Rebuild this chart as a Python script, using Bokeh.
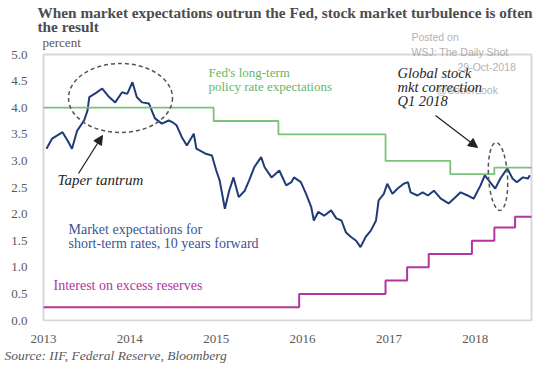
from bokeh.plotting import figure
from bokeh.models import (Range1d, Label, Arrow, NormalHead, FixedTicker, BoxAnnotation, Title)
from bokeh.embed import file_html
from bokeh.resources import INLINE

# ---- data ----
mkt_years = [2013.035, 2013.10, 2013.16, 2013.22, 2013.28, 2013.33, 2013.39, 2013.47, 2013.51, 2013.53,
             2013.60, 2013.68, 2013.76, 2013.83, 2013.91, 2013.97, 2014.03, 2014.08, 2014.14, 2014.22,
             2014.29, 2014.37, 2014.45, 2014.49, 2014.54, 2014.60, 2014.66, 2014.74, 2014.77, 2014.87,
             2014.95, 2015.00, 2015.04, 2015.10, 2015.15, 2015.20, 2015.26, 2015.33, 2015.38, 2015.44,
             2015.52, 2015.56, 2015.64, 2015.73, 2015.81, 2015.87, 2015.90, 2015.98, 2016.04, 2016.10,
             2016.13, 2016.18, 2016.25, 2016.33, 2016.39, 2016.45, 2016.50, 2016.56, 2016.62, 2016.67,
             2016.73, 2016.79, 2016.85, 2016.88, 2016.94, 2016.98, 2017.04, 2017.10, 2017.17, 2017.22,
             2017.25, 2017.33, 2017.39, 2017.45, 2017.52, 2017.60, 2017.69, 2017.75, 2017.83, 2017.91,
             2017.98, 2018.06, 2018.11, 2018.17, 2018.23, 2018.29, 2018.37, 2018.43, 2018.48, 2018.55,
             2018.61, 2018.63]
mkt_values = [3.23, 3.42, 3.48, 3.54, 3.38, 3.23, 3.57, 3.76, 3.95, 4.20,
              4.27, 4.36, 4.20, 4.10, 4.29, 4.26, 4.48, 4.20, 4.10, 4.08,
              3.80, 3.70, 3.76, 3.73, 3.67, 3.45, 3.29, 3.51, 3.23, 3.14,
              3.10, 2.82, 2.63, 2.10, 2.44, 2.69, 2.32, 2.44, 2.63, 2.88,
              3.07, 2.88, 2.69, 2.82, 2.54, 2.60, 2.69, 2.60, 2.38, 2.13,
              1.88, 2.04, 1.97, 2.07, 1.92, 1.88, 1.66, 1.57, 1.50, 1.38,
              1.57, 1.69, 1.88, 2.26, 2.38, 2.57, 2.38, 2.48, 2.57, 2.60,
              2.41, 2.35, 2.41, 2.35, 2.44, 2.29, 2.20, 2.29, 2.41, 2.35,
              2.29, 2.54, 2.73, 2.60, 2.48, 2.67, 2.86, 2.67, 2.60, 2.69,
              2.67, 2.73]

fed_years = [2013.0, 2014.97, 2015.72, 2016.96, 2017.71, 2018.22, 2018.65]
fed_values = [4.0, 3.75, 3.5, 3.0, 2.75, 2.875, 2.875]

ioer_years = [2013.0, 2015.96, 2016.96, 2017.21, 2017.46, 2017.96, 2018.22, 2018.46, 2018.65]
ioer_values = [0.25, 0.5, 0.75, 1.0, 1.25, 1.5, 1.75, 1.95, 1.95]

year_ticks = [2013, 2014, 2015, 2016, 2017, 2018]
y_ticks = [0.0, 0.5, 1.0, 1.5, 2.0, 2.5, 3.0, 3.5, 4.0, 4.5, 5.0]

# ---- geometry: plot box (page px) left 43, right 531, top 54, bottom 320 ----
BX0, BX1, BY0, BY1 = 2013.0, 2018.65, 0.0, 5.0
BL, BR, BT, BB = 43.0, 531.0, 54.0, 320.0
KX = (BR - BL) / (BX1 - BX0)
KY = (BB - BT) / (BY1 - BY0)
def dx(px):
    return BX0 + (px - BL) / KX
def dy(py):
    return BY0 + (BB - py) / KY

FL, FR, FT, FB = 36, 533, 0, 321   # frame in canvas px
W, H = 540, 367
p = figure(width=W, height=H, output_backend="svg", toolbar_location=None,
           x_range=Range1d(dx(FL), dx(FR)), y_range=Range1d(dy(FB), dy(FT)),
           min_border_left=FL, min_border_right=W - FR, min_border_top=FT, min_border_bottom=H - FB)
p.background_fill_color = "white"
p.border_fill_color = "white"
p.outline_line_color = None
p.grid.grid_line_color = None

SERIF = "Liberation Serif"
TXT = "#595959"
for ax in (p.xaxis[0], p.yaxis[0]):
    ax.axis_line_color = None
    ax.major_tick_line_color = None
    ax.minor_tick_line_color = None
    ax.major_label_text_font = SERIF
    ax.major_label_text_font_size = "13px"
    ax.major_label_text_color = TXT
p.xaxis.ticker = FixedTicker(ticks=year_ticks)
p.xaxis.major_label_overrides = {y: str(y) for y in year_ticks}
p.xaxis.major_label_standoff = 7
p.yaxis.ticker = FixedTicker(ticks=y_ticks)
p.yaxis.major_label_overrides = {v: f"{v:.1f}" for v in y_ticks}
p.yaxis.major_label_standoff = 3

p.add_layout(Title(text="Source: IIF, Federal Reserve, Bloomberg", align="left", offset=-32,
                   standoff=1, text_font=SERIF, text_font_size="13.5px", text_font_style="italic",
                   text_color="#595959"), "below")

# watermark (under everything)
WM = "#b3b3b3"
for txt, xx, yy in [("Posted on", 411, 36), ("WSJ: The Daily Shot", 411, 51),
                    ("29-Oct-2018", 457, 66), ("@SoberLook", 436, 89)]:
    p.add_layout(Label(x=dx(xx), y=dy(yy), text=txt, text_font="Liberation Sans",
                       text_font_size="10.5px", text_color=WM, text_baseline="middle"))

# plot box
p.add_layout(BoxAnnotation(left=BX0, right=BX1, bottom=BY0, top=BY1, fill_alpha=0,
                           line_color="#7f7f7f", line_width=2))

# ---- series ----
p.step(ioer_years, ioer_values, mode="after", line_color="#b2359f", line_width=2)
p.line(mkt_years, mkt_values, line_color="#1f3b78", line_width=2)
p.step(fed_years, fed_values, mode="after", line_color="#7cc27a", line_width=1.8)

# ---- annotations ----
p.ellipse(x=[dx(120)], y=[dy(97.5)], width=[104], height=[69], width_units="screen",
          height_units="screen", fill_color=None, line_color="#555555", line_dash="4 3", line_width=1.5)
p.ellipse(x=[dx(497.5)], y=[dy(176)], width=[19], height=[68], width_units="screen",
          height_units="screen", angle=0.06, fill_color=None, line_color="#555555",
          line_dash="4 3", line_width=1.5)
p.add_layout(Arrow(end=NormalHead(size=9, fill_color="#222222", line_color="#222222"),
                   x_start=dx(78), y_start=dy(173), x_end=dx(102), y_end=dy(135),
                   line_color="#222222", line_width=1.3))
p.add_layout(Arrow(end=NormalHead(size=9, fill_color="#222222", line_color="#222222"),
                   x_start=dx(435), y_start=dy(115), x_end=dx(477), y_end=dy(147),
                   line_color="#222222", line_width=1.3))

def lab(text, xx, yy, color, size="13px", style="normal"):
    p.add_layout(Label(x=dx(xx), y=dy(yy), text=text, text_font=SERIF, text_font_size=size,
                       text_color=color, text_font_style=style, text_baseline="middle"))

lab("When market expectations outrun the Fed, stock market turbulence is often", 37, 12,
    "#4d4d4d", "15.3px", "bold")
lab("the result", 37, 26, "#4d4d4d", "15.3px", "bold")
lab("percent", 42, 42, "#595959", "13px")
lab("Taper tantrum", 57, 179, "#262626", "15px", "italic")
lab("Global stock", 397, 72, "#262626", "14.5px", "italic")
lab("mkt correction", 397, 86, "#262626", "14.5px", "italic")
lab("Q1 2018", 397, 100, "#262626", "14.5px", "italic")
lab("Fed's long-term", 208, 72, "#6ab566", "13px")
lab("policy rate expectations", 208, 86, "#6ab566", "13px")
lab("Market expectations for", 68, 229, "#3b5592", "14px")
lab("short-term rates, 10 years forward", 68, 243, "#3b5592", "14px")
lab("Interest on excess reserves", 53, 285, "#b2359f", "14px")

open("out.html", "w").write(file_html(p, INLINE))
